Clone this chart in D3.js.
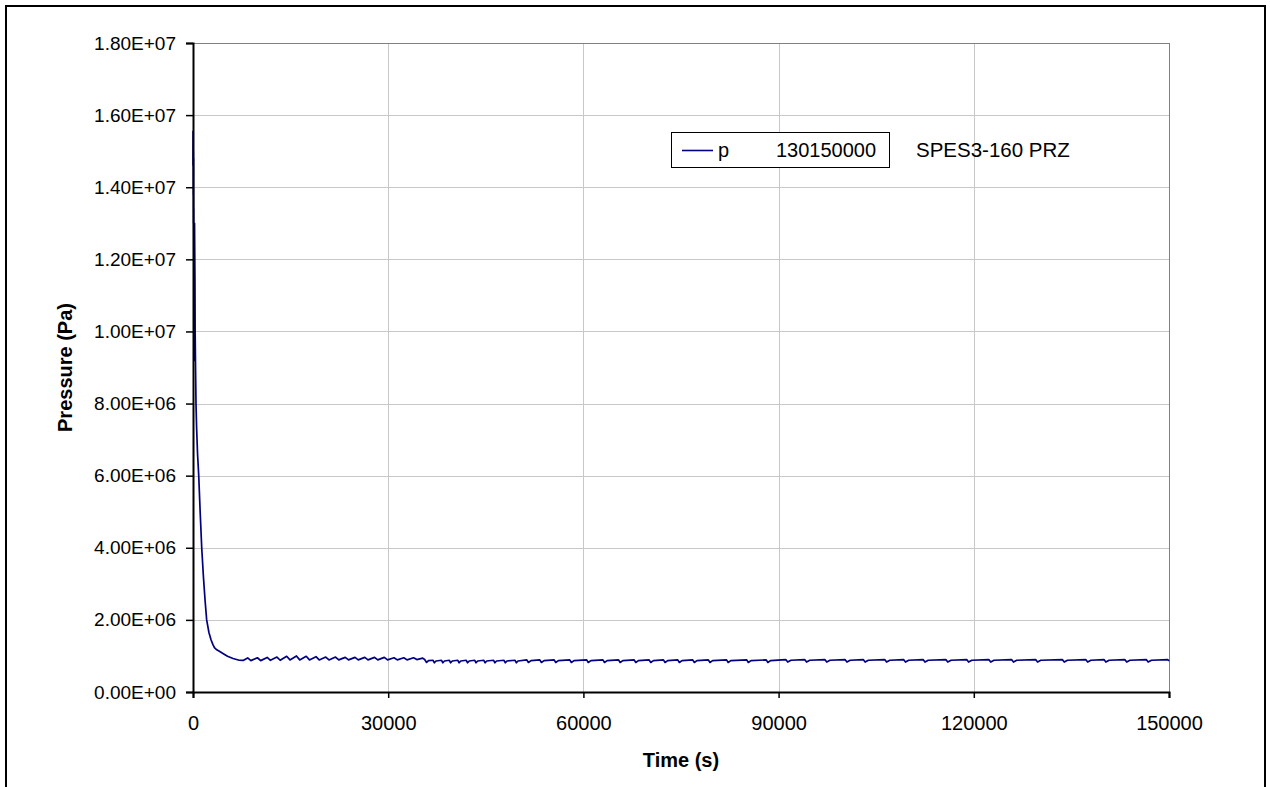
<!DOCTYPE html>
<html>
<head>
<meta charset="utf-8">
<script src="https://cdn.jsdelivr.net/npm/d3@7"></script>
<style>
  body { margin: 0; background: #fff; }
  text { font-family: Arial, "Liberation Sans", sans-serif; fill: #000; }
</style>
</head>
<body>
<svg width="1270" height="787"></svg>
<script>
// Tick values and labels
const xTicks = [0, 30000, 60000, 90000, 120000, 150000];
const yTicks = [0, 2e6, 4e6, 6e6, 8e6, 1e7, 1.2e7, 1.4e7, 1.6e7, 1.8e7];
const legendLabel = "p";
const legendCode = "130150000";
const chartNote = "SPES3-160 PRZ";

// Pressure trace (time in s, pressure in MPa)
const timeS = [
  0, 10, 25, 40, 55, 70, 85, 100, 120, 140, 160, 180, 200, 215, 235, 260, 300, 330, 390, 460,
  560, 700, 880, 1100, 1340, 1600, 1850, 2100, 2450, 2770, 3050, 3290, 3650, 4050, 4600, 5300, 6150, 7100,
  7700, 8400, 8900, 9900, 10400, 11400, 11900, 12900, 13400, 14400, 14900, 15900, 16400, 17400, 17900,
  18900, 19400, 20400, 20900, 21900, 22400, 23400, 23900, 24900, 25400, 26400, 26900, 27900, 28400,
  29400, 29900, 30900, 31400, 32400, 32900, 33900, 34400, 35300,
  35600, 35900, 36200,
  36900, 37100, 37350,  38200, 38400, 38650,  39400, 39600, 39850,  40700, 40900, 41150,
  42000, 42200, 42450,  43300, 43500, 43750,  44700, 44900, 45150,  46200, 46400, 46650,
  47800, 48000, 48250,  49500, 49700, 49950,
  51300, 51550, 51950,  53300, 53550, 53950,  55500, 55750, 56150,  57900, 58150, 58550,
  60500, 60750, 61150,  63000, 63250, 63650,  65400, 65650, 66050,  67800, 68050, 68450,
  70100, 70350, 70750,  72300, 72550, 72950,  74500, 74750, 75150,  76800, 77050, 77450,
  79200, 79450, 79850,  82000, 82250, 82650,  85100, 85350, 85750,  88100, 88350, 88750,
  91100, 91400, 91900,  94000, 94300, 94800,  97100, 97400, 97900,  100200, 100500, 101000,
  103000, 103300, 103800,  106300, 106600, 107100,  109200, 109500, 110000,  112200, 112500, 113000,
  115700, 116000, 116500,  118900, 119200, 119700,  122300, 122600, 123100,  125800, 126100, 126600,
  129500, 129800, 130300,  133600, 133900, 134400,  137200, 137500, 138000,  140000, 140300, 140800,
  143200, 143500, 144000,  146500, 146800, 147300,
  149800, 150000
];
const pressureMPa = [
  14.6, 15.55, 14.7, 15.0, 13.8, 14.8, 13.0, 13.4, 12.6, 11.2, 9.7, 9.2, 11.0, 12.8, 13.0, 12.4, 11.4, 10.0, 9.0, 8.0,
  7.3, 6.6, 6.0, 5.0, 4.0, 3.2, 2.55, 2.0, 1.65, 1.45, 1.32, 1.23, 1.17, 1.13, 1.07, 0.99, 0.93, 0.88,
  0.875, 0.945, 0.87, 0.95, 0.87, 0.96, 0.88, 0.97, 0.88, 0.99, 0.89, 1.0, 0.89, 0.99, 0.89,
  0.98, 0.89, 0.97, 0.89, 0.97, 0.89, 0.96, 0.89, 0.96, 0.89, 0.96, 0.89, 0.96, 0.89,
  0.96, 0.89, 0.95, 0.89, 0.95, 0.89, 0.95, 0.90, 0.94,
  0.90, 0.82, 0.87,
  0.88, 0.81, 0.86,  0.88, 0.81, 0.86,  0.88, 0.81, 0.86,  0.88, 0.81, 0.86,
  0.88, 0.81, 0.86,  0.88, 0.81, 0.86,  0.88, 0.81, 0.86,  0.88, 0.81, 0.86,
  0.88, 0.81, 0.86,  0.88, 0.81, 0.86,
  0.89, 0.82, 0.87,  0.89, 0.82, 0.87,  0.89, 0.82, 0.87,  0.89, 0.82, 0.87,
  0.89, 0.82, 0.87,  0.89, 0.82, 0.87,  0.89, 0.82, 0.87,  0.89, 0.82, 0.87,
  0.89, 0.82, 0.87,  0.89, 0.82, 0.87,  0.89, 0.82, 0.87,  0.89, 0.82, 0.87,
  0.89, 0.82, 0.87,  0.89, 0.82, 0.87,  0.89, 0.82, 0.87,  0.89, 0.82, 0.87,
  0.90, 0.83, 0.88,  0.90, 0.83, 0.88,  0.90, 0.83, 0.88,  0.90, 0.83, 0.88,
  0.90, 0.83, 0.88,  0.90, 0.83, 0.88,  0.90, 0.83, 0.88,  0.90, 0.83, 0.88,
  0.90, 0.83, 0.88,  0.90, 0.83, 0.88,  0.90, 0.83, 0.88,  0.90, 0.83, 0.88,
  0.90, 0.83, 0.88,  0.90, 0.83, 0.88,  0.90, 0.83, 0.88,  0.90, 0.83, 0.88,
  0.90, 0.83, 0.88,  0.90, 0.83, 0.88,
  0.90, 0.86
];

const margin = {top: 43, left: 193, right: 101, bottom: 95};
const plotWidth = 1270 - margin.left - margin.right;   // 976
const plotHeight = 787 - margin.top - margin.bottom;   // 649

const svg = d3.select("svg");

// outer chart frame (bottom edge runs off the picture)
svg.append("rect")
  .attr("x", 6).attr("y", 6)
  .attr("width", 1259).attr("height", 820)
  .attr("fill", "none")
  .attr("stroke", "#000")
  .attr("stroke-width", 2);

const g = svg.append("g")
  .attr("transform", `translate(${margin.left}, ${margin.top})`);

const x = d3.scaleLinear().domain([0, 150000]).range([0, plotWidth]);
const y = d3.scaleLinear().domain([0, 1.8e7]).range([plotHeight, 0]);

// Excel style scientific labels: 1.80E+07
function sci(d) {
  if (d === 0) return "0.00E+00";
  const e = Math.floor(Math.log10(d));
  const m = d / Math.pow(10, e);
  return m.toFixed(2) + "E+" + String(e).padStart(2, "0");
}

// grid
g.append("g").selectAll("line")
  .data(yTicks.filter(d => d > 0))
  .enter().append("line")
  .attr("x1", 0).attr("x2", plotWidth)
  .attr("y1", d => Math.round(y(d)) + 0.5).attr("y2", d => Math.round(y(d)) + 0.5)
  .attr("stroke", "#c8c8c8");

g.append("g").selectAll("line")
  .data(xTicks.filter(d => d > 0))
  .enter().append("line")
  .attr("x1", d => Math.round(x(d)) + 0.5).attr("x2", d => Math.round(x(d)) + 0.5)
  .attr("y1", 0).attr("y2", plotHeight)
  .attr("stroke", "#c8c8c8");

// plot area border (top and right show as gray)
g.append("rect")
  .attr("x", 0.5).attr("y", 0.5)
  .attr("width", plotWidth).attr("height", plotHeight)
  .attr("fill", "none")
  .attr("stroke", "#808080");

// the trace
const points = timeS.map((t, i) => [t, pressureMPa[i] * 1e6]);
const line = d3.line()
  .x(d => x(d[0]))
  .y(d => y(d[1]));

g.append("path")
  .datum(points)
  .attr("d", line)
  .attr("fill", "none")
  .attr("stroke", "#000080")
  .attr("stroke-width", 1.7)
  .attr("stroke-linejoin", "round");

// axes
const yAxis = g.append("g")
  .call(d3.axisLeft(y).tickValues(yTicks).tickSize(7).tickPadding(10).tickFormat(sci));
const xAxis = g.append("g")
  .attr("transform", `translate(0, ${plotHeight})`)
  .call(d3.axisBottom(x).tickValues(xTicks).tickSize(6).tickPadding(18).tickFormat(d3.format("d")));

[yAxis, xAxis].forEach(a => {
  a.select(".domain").attr("stroke", "#000").attr("stroke-width", 2);
  a.selectAll(".tick line").attr("stroke", "#000").attr("stroke-width", 1.5);
  a.selectAll(".tick text").attr("fill", "#000").style("font-family", "Arial, 'Liberation Sans', sans-serif");
});
yAxis.selectAll(".tick text").style("font-size", "19px");
xAxis.selectAll(".tick text").style("font-size", "20px");

// axis titles
g.append("text")
  .attr("x", plotWidth / 2)
  .attr("y", plotHeight + 75)
  .attr("text-anchor", "middle")
  .attr("font-size", "20px")
  .attr("font-weight", "bold")
  .text("Time (s)");

g.append("text")
  .attr("transform", "rotate(-90)")
  .attr("x", -(plotHeight / 2))
  .attr("y", -121)
  .attr("text-anchor", "middle")
  .attr("font-size", "20px")
  .attr("font-weight", "bold")
  .text("Pressure (Pa)");

// legend
const legend = svg.append("g");
legend.append("rect")
  .attr("x", 671.5).attr("y", 132.5)
  .attr("width", 218).attr("height", 35)
  .attr("fill", "#fff")
  .attr("stroke", "#000");
legend.append("line")
  .attr("x1", 682).attr("x2", 713)
  .attr("y1", 150.5).attr("y2", 150.5)
  .attr("stroke", "#000080")
  .attr("stroke-width", 1.6);
legend.append("text")
  .attr("x", 718).attr("y", 157)
  .attr("font-size", "20px")
  .text(legendLabel);
legend.append("text")
  .attr("x", 876).attr("y", 157)
  .attr("text-anchor", "end")
  .attr("font-size", "20px")
  .text(legendCode);

svg.append("text")
  .attr("x", 916).attr("y", 157)
  .attr("font-size", "20.5px")
  .text(chartNote);
</script>
</body>
</html>
